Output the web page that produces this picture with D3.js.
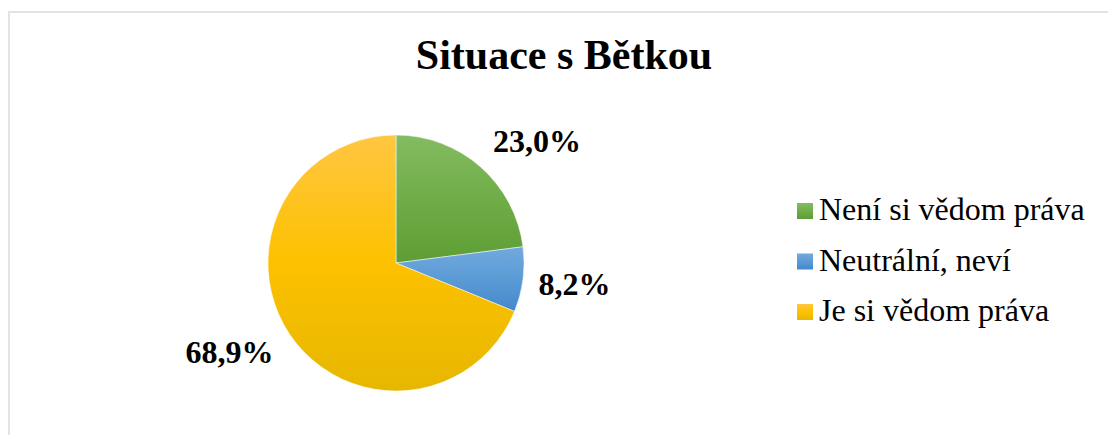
<!DOCTYPE html>
<html>
<head>
<meta charset="utf-8">
<script src="https://cdn.jsdelivr.net/npm/d3@7"></script>
<style>
    body { margin: 0; background: #fff; }
    text { font-family: "Liberation Serif", "Times New Roman", serif; fill: #000; }
</style>
</head>
<body>
<svg id="chart" width="1108" height="435"></svg>
<script>
// data
var categories = ["Není si vědom práva", "Neutrální, neví", "Je si vědom práva"];
var shares = [23.0, 8.2, 68.9];
var labels = ["23,0%", "8,2%", "68,9%"];
var title = "Situace s Bětkou";

// light top, base, dark bottom (office style gradient)
var colors = {
    "Není si vědom práva": ["#84bc62", "#70ad47", "#5e9d34"],
    "Neutrální, neví": ["#72a9de", "#5b9bd5", "#4487cd"],
    "Je si vědom práva": ["#ffc641", "#fdc100", "#e6b700"]
};

// best-fit label nudges (px), layout only
var labelNudge = [[22, 13], [0, -2], [-17, -11]];

var svg = d3.select("#chart");
var cx = 396, cy = 263, r = 128;

// chart frame (runs off the right and bottom)
svg.append("rect")
    .attr("x", 9).attr("y", 12)
    .attr("width", 1200).attr("height", 500)
    .attr("fill", "none")
    .attr("stroke", "#e3e3e3")
    .attr("stroke-width", 2);

svg.append("text")
    .attr("x", 564).attr("y", 69)
    .attr("text-anchor", "middle")
    .style("font-size", "42px")
    .style("font-weight", "bold")
    .text(title);

var defs = svg.append("defs");
categories.forEach(function(c, i) {
    var g = defs.append("linearGradient")
        .attr("id", "grad" + i)
        .attr("x1", 0).attr("y1", 0)
        .attr("x2", 0).attr("y2", 1);
    g.append("stop").attr("offset", "0%").attr("stop-color", colors[c][0]);
    g.append("stop").attr("offset", "50%").attr("stop-color", colors[c][1]);
    g.append("stop").attr("offset", "100%").attr("stop-color", colors[c][2]);
});

var pie = d3.pie().sort(null).value(function(d) { return d; });
var arcs = pie(shares);

var arc = d3.arc().innerRadius(0).outerRadius(r);
var labelArc = d3.arc().innerRadius(180).outerRadius(180);

var g = svg.append("g").attr("transform", "translate(" + cx + "," + cy + ")");

g.selectAll("path.slice")
    .data(arcs)
    .enter().append("path")
    .attr("class", "slice")
    .attr("d", arc)
    .attr("fill", function(d, i) { return "url(#grad" + i + ")"; })
    .attr("stroke", "#fff")
    .attr("stroke-width", 0.5);

g.selectAll("text.lbl")
    .data(arcs)
    .enter().append("text")
    .attr("class", "lbl")
    .attr("transform", function(d, i) {
        var p = labelArc.centroid(d);
        return "translate(" + (p[0] + labelNudge[i][0]) + "," + (p[1] + labelNudge[i][1] + 11) + ")";
    })
    .attr("text-anchor", "middle")
    .style("font-size", "32px")
    .style("font-weight", "bold")
    .text(function(d, i) { return labels[i]; });

// legend
var legend = svg.append("g").attr("transform", "translate(797,203)");
var rows = legend.selectAll("g")
    .data(categories)
    .enter().append("g")
    .attr("transform", function(d, i) { return "translate(0," + (i * 50.5) + ")"; });

rows.append("rect")
    .attr("width", 16).attr("height", 16)
    .attr("fill", function(d, i) { return "url(#grad" + i + ")"; });

rows.append("text")
    .attr("x", 22).attr("y", 17)
    .style("font-size", "32px")
    .text(function(d) { return d; });
</script>
</body>
</html>
